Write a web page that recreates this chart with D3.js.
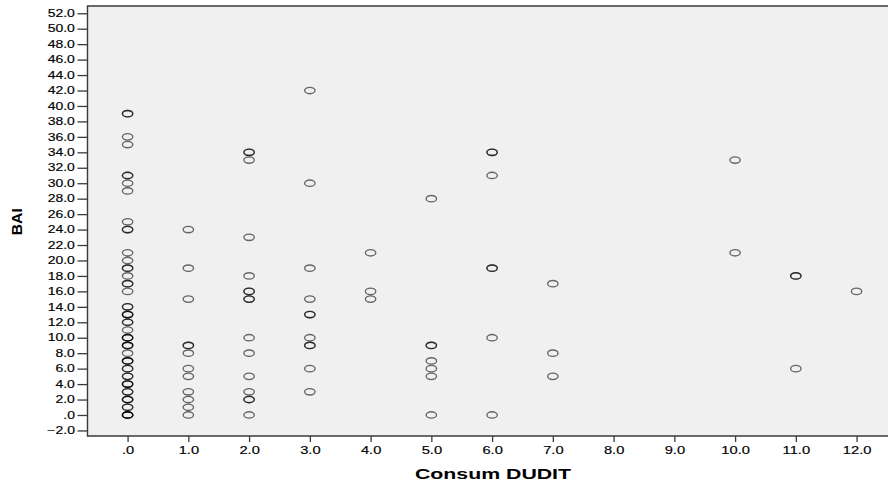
<!DOCTYPE html>
<html>
<head>
<meta charset="utf-8">
<script src="https://cdn.jsdelivr.net/npm/d3@7/dist/d3.min.js"></script>
<style>
  html, body { margin: 0; padding: 0; background: #fff; }
  svg { display: block; }
</style>
</head>
<body>
<svg id="chart" width="888" height="482"></svg>
<script>
// ---- Data ----
const xTicks = [0,1,2,3,4,5,6,7,8,9,10,11,12];
const yTicks = d3.range(-2, 53, 2);
const xTitle = "Consum DUDIT";
const yTitle = "BAI";

// BAI values for each DUDIT score (duplicates = overplotted points)
const bai_d0  = [39,39,36,35,31,31,30,29,25,24,24,21,20,19,19,18,17,17,16,14,14,13,13,13,12,12,11,10,10,10,9,9,9,8,7,7,7,6,6,5,5,4,4,4,3,3,2,2,2,1,1,0,0,0,0];
const bai_d1  = [24,19,15,9,9,8,6,5,3,2,1,0];
const bai_d2  = [34,34,33,23,18,16,16,15,15,10,8,5,3,2,2,0];
const bai_d3  = [42,30,19,15,13,13,10,9,9,6,3];
const bai_d4  = [21,16,15];
const bai_d5  = [28,9,9,7,6,5,0];
const bai_d6  = [34,34,31,19,19,10,0];
const bai_d7  = [17,8,5];
const bai_d10 = [33,21];
const bai_d11 = [18,18,6];
const bai_d12 = [16];

const groups = [
  [0, bai_d0], [1, bai_d1], [2, bai_d2], [3, bai_d3], [4, bai_d4],
  [5, bai_d5], [6, bai_d6], [7, bai_d7], [10, bai_d10], [11, bai_d11], [12, bai_d12]
];
const points = groups.flatMap(([dudit, arr]) => arr.map(b => ({x: dudit, y: b})));

// ---- Layout ----
const svg = d3.select("#chart");
const plotL = 87.5, plotR = 890, plotT = 6, plotB = 436;
const x = d3.scaleLinear().domain([-0.66, 12.55]).range([plotL, plotR]);
const y = d3.scaleLinear().domain([-2.72, 52.94]).range([plotB, plotT]);
const fmt = d => d === 0 ? ".0" : d3.format(".1f")(d);
const FONT = "'Liberation Sans', Arial, sans-serif";
const SX = 1.4;

// plot background
svg.append("rect")
  .attr("x", plotL).attr("y", plotT)
  .attr("width", plotR - plotL).attr("height", plotB - plotT)
  .attr("fill", "#f0f0f0");

// points
svg.append("g").selectAll("ellipse")
  .data(points).join("ellipse")
  .attr("cx", d => x(d.x))
  .attr("cy", d => y(d.y))
  .attr("rx", 5.2).attr("ry", 3.2)
  .attr("fill", "none")
  .attr("stroke", "#000")
  .attr("stroke-opacity", 0.58)
  .attr("stroke-width", 1.35);

// frame
svg.append("path")
  .attr("d", `M${plotR},${plotT}H${plotL}V${plotB}H${plotR}`)
  .attr("fill", "none").attr("stroke", "#3a3a3a").attr("stroke-width", 1.4);

// axes
const yAxis = svg.append("g")
  .attr("transform", `translate(${plotL},0)`)
  .call(d3.axisLeft(y).tickValues(yTicks).tickFormat(fmt).tickSize(10).tickSizeOuter(0).tickPadding(-1));
yAxis.select(".domain").remove();
yAxis.selectAll("line").attr("stroke", "#3a3a3a").attr("stroke-width", 1.3);
yAxis.selectAll("text")
  .attr("font-family", FONT).attr("font-size", 10).attr("fill", "#000")
  .attr("stroke", "#000").attr("stroke-width", 0.15)
  .attr("transform", `scale(${SX},1)`);

const xAxis = svg.append("g")
  .attr("transform", `translate(0,${plotB})`)
  .call(d3.axisBottom(x).tickValues(xTicks).tickFormat(fmt).tickSize(6).tickSizeOuter(0).tickPadding(5));
xAxis.select(".domain").remove();
xAxis.selectAll("line").attr("stroke", "#3a3a3a").attr("stroke-width", 1.3);
xAxis.selectAll("text")
  .attr("font-family", FONT).attr("font-size", 10.5).attr("fill", "#000")
  .attr("stroke", "#000").attr("stroke-width", 0.15)
  .attr("transform", `scale(${SX},1)`);

svg.selectAll("g").attr("font-family", FONT);

// axis titles
svg.append("text")
  .attr("transform", `translate(493,479) scale(1.42,1)`)
  .attr("text-anchor", "middle")
  .attr("font-family", FONT).attr("font-weight", "bold").attr("font-size", 15)
  .attr("fill", "#000")
  .text(xTitle);

svg.append("text")
  .attr("transform", `translate(21.7,221.7) rotate(-90) scale(1.12,1)`)
  .attr("text-anchor", "middle")
  .attr("font-family", FONT).attr("font-weight", "bold").attr("font-size", 14)
  .attr("fill", "#000")
  .text(yTitle);
</script>
</body>
</html>
